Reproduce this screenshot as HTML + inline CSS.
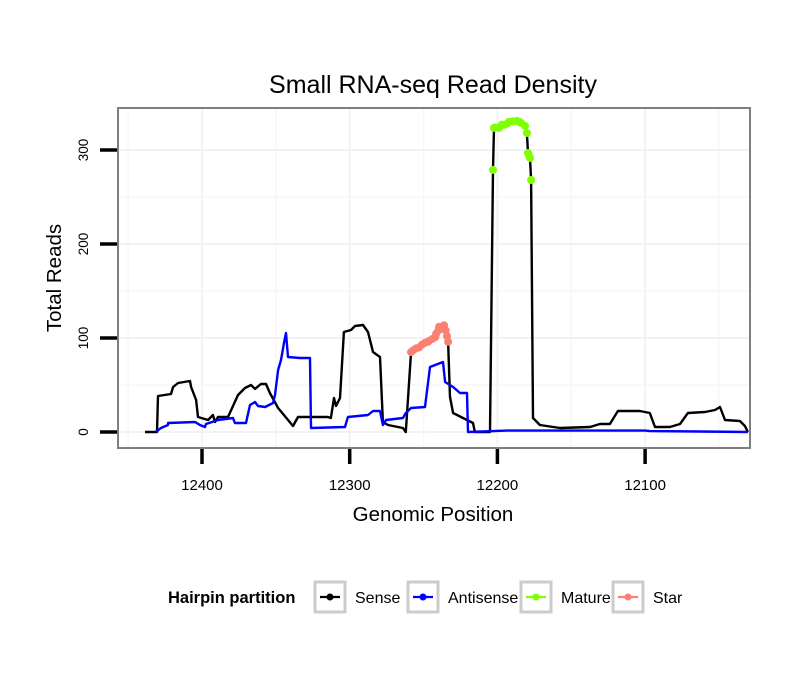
<!DOCTYPE html>
<html><head><meta charset="utf-8"><style>
body{margin:0;background:#fff;font-family:"Liberation Sans",sans-serif}
</style></head><body>
<svg id="c" width="810" height="690" xmlns="http://www.w3.org/2000/svg" style="font-family:'Liberation Sans',sans-serif">
<rect width="810" height="690" fill="#fff"/>
<text x="433" y="93" text-anchor="middle" font-size="25">Small RNA-seq Read Density</text>
<g id="grid"></g><g id="series"></g>
<rect x="118" y="108" width="632" height="340" fill="none" stroke="#7f7f7f" stroke-width="2"/>
<g id="axes"></g>
<text x="433" y="521" text-anchor="middle" font-size="20.5">Genomic Position</text>
<text transform="translate(61,278) rotate(-90)" text-anchor="middle" font-size="20.5">Total Reads</text>
<g>
<text x="168" y="603" font-size="16.5" font-weight="bold">Hairpin partition</text>
<g id="legend"></g>
</g>
</svg>
<script>
const xTicks=[12400,12300,12200,12100];
const yTicks=[0,100,200,300];
const sensePos=[12438.6,12430.5,12429.8,12421,12419.6,12416.2,12408.1,12407.4,12404,12402.7,12395.9,12392.6,12391.2,12389.2,12382.4,12375.6,12370.9,12366.8,12364.1,12360.1,12356.7,12354,12348.5,12338.4,12335,12314.7,12312.7,12310.6,12309.3,12306.6,12303.9,12299.1,12296.4,12291,12287.6,12284.2,12279.5,12277.5,12274.1,12264,12262,12258.5,12253,12246.3,12241.5,12239.5,12236.1,12234.1,12233.4,12232.1,12230,12223.3,12216.5,12215.2,12205,12203,12202.3,12198.9,12195.5,12192.2,12186.8,12184,12181.3,12180,12179.3,12177.9,12177.2,12175.9,12171.2,12157.6,12137.3,12130.6,12123.8,12118.4,12103.5,12096.8,12093.3,12083.2,12076.4,12071,12059.5,12052.7,12049.3,12045.9,12035.8,12032.4,12030.4];
const senseVal=[0,0,38.3,40.4,47.9,52.1,54.3,47.9,34,16,12.8,18.1,10.6,16,16,39.4,46.8,50,45.8,51.1,51.1,41.5,25.5,6.4,16,16,14.9,36.2,27.7,36.2,106.4,108.5,112.8,113.8,106.4,85.1,79.8,10.6,7.4,4.3,0,84,90,97,104.5,112,113.5,102,96,37.2,20.2,14.9,9.6,0,0,278.8,323.5,323.5,326.7,329.9,330.9,328.8,325.6,318.1,296.8,291.5,268.1,14.9,7.4,4.3,5.3,8.5,8.5,22.3,22.3,20.2,5.3,5.3,8.5,20.2,21.3,23.4,26.6,12.8,11.7,6.4,0];
const antiPos=[12431.1,12427.8,12423,12423,12404.7,12401.4,12398,12397.3,12389.2,12379,12377.7,12370.2,12367.5,12364.1,12362.1,12357.3,12351.9,12350.6,12348.5,12346.5,12344.5,12343.1,12341.8,12333.7,12326.9,12326.2,12303.2,12301.2,12287.6,12284.2,12279.5,12277.5,12275.4,12264,12262,12258.5,12249,12245.6,12236.8,12235.4,12230,12225.3,12220.6,12219.9,12193.5,12100,12096.7,12063,12030.4];
const antiVal=[0,4.3,7.4,9.6,10.6,7.4,5.3,8.5,12.8,14.9,9.6,9.6,28.7,31.9,27.7,26.6,30.9,39.4,66,76.6,94.8,105.3,79.8,78.7,78.7,4.3,5.3,16,18.1,22.3,22.3,7.4,12.8,14.9,20.2,25.5,26.6,69.1,74.5,53.2,47.9,41.5,41.5,0,1.5,1.5,1,0.5,0];
const maturePos=[12203,12202.3,12201.5,12198.9,12197,12195.5,12193.5,12192.2,12189.5,12186.8,12185,12184,12181.3,12180,12179.3,12178.6,12177.9,12177.2];
const matureVal=[278.8,323.5,324,323.5,327,326.7,328,329.9,330.5,330.9,330,328.8,325.6,318.1,296.8,294,291.5,268.1];
const starPos=[12258.5,12257,12255,12253,12251,12249,12247,12246.3,12244,12242,12241.5,12240,12239.5,12238,12236.1,12235,12234.1,12233.4];
const starVal=[85,87,89,90,93,95,96,97,99,101,104.5,108,112,110,113.5,108,102,96];
const NS="http://www.w3.org/2000/svg";
const X0=118,X1=750,Y0=108,Y1=448;
function xs(p){return 202+(12400-p)*1.477;}
function ys(v){return 432-v*0.94;}
function mk(t,a,par){const e=document.createElementNS(NS,t);for(const k in a)e.setAttribute(k,a[k]);document.getElementById(par).appendChild(e);return e;}
[12450,12400,12350,12300,12250,12200,12150,12100,12050].forEach(p=>{const x=xs(p);if(x>X0&&x<X1){const l=mk('line',{x1:x,x2:x,y1:Y0,y2:Y1,stroke:xTicks.includes(p)?'#f2f2f2':'#f7f7f7','stroke-width':xTicks.includes(p)?2:1.5},'grid');

}});
[0,50,100,150,200,250,300].forEach(v=>{const y=ys(v);const l=mk('line',{x1:X0,x2:X1,y1:y,y2:y,stroke:yTicks.includes(v)?'#f2f2f2':'#f7f7f7','stroke-width':yTicks.includes(v)?2:1.5},'grid');

});
function path(P,V,color,name){let d=P.map((p,i)=>(i?'L':'M')+xs(p).toFixed(1)+','+ys(V[i]).toFixed(1)).join('');const e=mk('path',{d:d,fill:'none',stroke:color,'stroke-width':2.4,'stroke-linejoin':'round'},'series');

}
path(sensePos,senseVal,'#000','sense-line');
path(antiPos,antiVal,'#0000ff','antisense-line');
function pts(P,V,color,name){P.forEach((p,i)=>{const c=mk('circle',{cx:xs(p),cy:ys(V[i]),r:4,fill:color},'series');

});}
pts(starPos,starVal,'#fa8072','star-point');
pts(maturePos,matureVal,'#7fff00','mature-point');
xTicks.forEach(t=>{const x=xs(t);const l=mk('line',{x1:x,x2:x,y1:449,y2:464,stroke:'#000','stroke-width':3.5},'axes');


const tx=mk('text',{x:x,y:490,'text-anchor':'middle','font-size':15},'axes');tx.textContent=t;

});
yTicks.forEach(t=>{const y=ys(t);const l=mk('line',{x1:100,x2:117,y1:y,y2:y,stroke:'#000','stroke-width':3.5},'axes');


const tx=mk('text',{transform:`translate(88,${y}) rotate(-90)`,'text-anchor':'middle','font-size':13.5},'axes');tx.textContent=t;

});
const legNames=['Sense','Antisense','Mature','Star'];
const legColors=['#000','#0000ff','#7fff00','#fa8072'];
const legX=[315,408,521,613];
legNames.forEach((n,i)=>{const x=legX[i];
const r=mk('rect',{x:x,y:582,width:30,height:30,fill:'#fff',stroke:'#cccccc','stroke-width':3},'legend');


const l=mk('line',{x1:x+5,x2:x+25,y1:597,y2:597,stroke:legColors[i],'stroke-width':2.2},'legend');


const c=mk('circle',{cx:x+15,cy:597,r:3.5,fill:legColors[i]},'legend');


const t=mk('text',{x:x+40,y:603,'font-size':16},'legend');t.textContent=n;

});
</script>
</body></html>
